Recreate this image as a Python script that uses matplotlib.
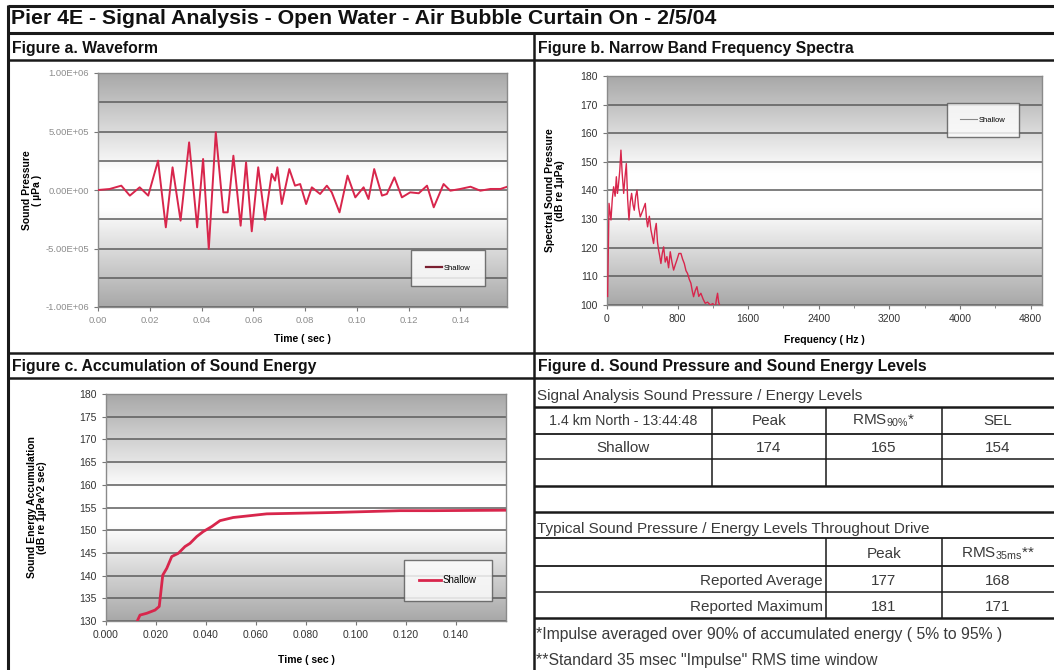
import numpy as np
import matplotlib
matplotlib.use("Agg")
import matplotlib.pyplot as plt
from matplotlib.colors import LinearSegmentedColormap
from matplotlib.ticker import MultipleLocator, FuncFormatter

plt.rcParams['font.family'] = ['Liberation Sans', 'DejaVu Sans']

# ---- data ----
# Figure a: waveform (time in s, pressure in uPa)
wave_t = [0.0, 0.0045, 0.0090, 0.0123, 0.0161, 0.0194, 0.0232, 0.0262, 0.0288, 0.0319,
          0.0352, 0.0383, 0.0406, 0.0428, 0.0455, 0.0484, 0.0501, 0.0523, 0.0551, 0.0572,
          0.0594, 0.0619, 0.0645, 0.0671, 0.0684, 0.0693, 0.0710, 0.0739, 0.0761, 0.0781,
          0.0804, 0.0826, 0.0858, 0.0884, 0.0903, 0.0933, 0.0964, 0.0994, 0.1026, 0.1045,
          0.1067, 0.1097, 0.1116, 0.1145, 0.1174, 0.1206, 0.1239, 0.1271, 0.1297, 0.1335,
          0.1361, 0.1400, 0.1439, 0.1477, 0.1516, 0.1555, 0.1581]
wave_p = [0, 8.5e3, 37e3, -48e3, 23e3, -48e3, 251e3, -319e3, 194e3, -262e3,
          407e3, -319e3, 265e3, -504e3, 493e3, -191e3, -191e3, 293e3, -305e3, 236e3,
          -353e3, 194e3, -256e3, 137e3, 80e3, 194e3, -120e3, 179e3, 37e3, 51e3,
          -120e3, 23e3, -34e3, 37e3, -20e3, -191e3, 123e3, -63e3, 23e3, -77e3,
          179e3, -48e3, -34e3, 108e3, -63e3, -20e3, -28e3, 37e3, -148e3, 51e3,
          -6e3, 9e3, 28e3, -6e3, 9e3, 9e3, 28e3]

# Figure b: narrow band spectrum (Hz, dB re 1uPa)
spec_f = [7, 23, 45, 60, 75, 92, 106, 118, 128, 145, 158, 172, 189, 205, 219, 234, 249, 264,
          279, 295, 309, 325, 340, 358, 377, 405, 434, 448, 460, 480, 498, 512, 528, 543,
          558, 572, 585, 598, 611, 626, 642, 660, 679, 698, 717, 736, 755, 773, 792, 815,
          838, 857, 876, 895, 913, 932, 951, 966, 981, 1000, 1019, 1040, 1064, 1090, 1113,
          1140, 1170, 1200, 1227, 1240, 1253, 1265, 1276, 1291]
spec_db = [103, 135.5, 129.7, 137, 141.3, 138, 144.8, 139, 141.3, 147, 154.1, 146, 139.0, 145,
           149.4, 137, 129.7, 136, 139.0, 135, 133.1, 138, 140.1, 134, 130.8, 133, 135.5, 130,
           127.3, 131, 126.2, 124, 121.5, 126, 128.5, 122, 119.2, 117, 114.5, 118, 120.3, 115,
           116.9, 113, 118.6, 115, 112.2, 114, 115.7, 118, 118.0, 116, 114.5, 112, 111.0, 109,
           107.6, 105, 102.9, 105, 106.4, 103, 104.1, 102, 100.6, 101, 100, 100.5, 99,
           102, 104.1, 101, 100, 98]

# Figure c: accumulated sound energy (s, dB re 1uPa^2 sec)
acc_t = [0.0118, 0.0125, 0.0136, 0.0163, 0.0196, 0.0213, 0.0227, 0.0243, 0.0263, 0.0289,
         0.0316, 0.0336, 0.0363, 0.0389, 0.0423, 0.0456, 0.0509, 0.0576, 0.0643, 0.0776,
         0.0909, 0.1043, 0.1176, 0.1309, 0.1600]
acc_db = [129, 130.0, 131.3, 131.7, 132.4, 133.2, 140.1, 141.6, 144.2, 144.9,
          146.4, 147.1, 148.6, 149.7, 150.8, 152.1, 152.8, 153.2, 153.6, 153.75,
          153.9, 154.1, 154.3, 154.3, 154.4]

# Figure d: tables
sig_header = ['1.4 km North - 13:44:48', 'Peak', r'RMS$_{\mathregular{90\%}}$*', 'SEL']
sig_row = ['Shallow', '174', '165', '154']
typ_header = ['Peak', r'RMS$_{\mathregular{35ms}}$**']
typ_rows = ['Reported Average', 'Reported Maximum']
typ_peak = ['177', '181']
typ_rms = ['168', '171']

title = 'Pier 4E - Signal Analysis - Open Water - Air Bubble Curtain On - 2/5/04'

W, H = 1054, 670
fig = plt.figure(figsize=(W / 100, H / 100), dpi=100)

# overlay axes in pixel coords for frame, headers and tables
bg = fig.add_axes([0, 0, 1, 1])
bg.set_xlim(0, W)
bg.set_ylim(H, 0)
bg.axis('off')

def hline(y, x0, x1, lw=1.6):
    bg.plot([x0, x1], [y, y], color='#1a1a1a', lw=lw, solid_capstyle='butt')

def vline(x, y0, y1, lw=1.6):
    bg.plot([x, x], [y0, y1], color='#1a1a1a', lw=lw, solid_capstyle='butt')

hline(6, 8, W, 2.2)
hline(33, 8, W, 2.2)
hline(60, 8, W, 1.8)
hline(353, 8, W, 1.8)
hline(378, 8, W, 1.8)
vline(8, 5, H, 2.2)
vline(534, 33, H, 1.8)

bg.text(11, 19, title, fontsize=15.3, fontweight='bold', va='center', color='#111')
hdr = dict(fontsize=11.3, fontweight='bold', va='center', color='#111')
bg.text(12, 48, 'Figure a. Waveform', **hdr)
bg.text(538, 48, 'Figure b. Narrow Band Frequency Spectra', **hdr)
bg.text(12, 367, 'Figure c. Accumulation of Sound Energy', **hdr)
bg.text(538, 367, 'Figure d. Sound Pressure and Sound Energy Levels', **hdr)

# table 1
tc = '#3a3a3a'
fs = 11
bg.text(537, 396, 'Signal Analysis Sound Pressure / Energy Levels', fontsize=11, va='center', color=tc)
for y, lw in [(407, 1.8), (434, 1.3), (459, 1.1), (486, 1.8), (512, 1.8)]:
    hline(y, 534, W, lw)
for x in [712, 826, 942]:
    vline(x, 407, 486, 1.1)
cols = [623, 769, 884, 998]
for i, (cx, s) in enumerate(zip(cols, sig_header)):
    bg.text(cx, 421, s, fontsize=10.2 if i == 0 else fs, ha='center', va='center', color=tc)
for cx, s in zip(cols, sig_row):
    bg.text(cx, 448, s, fontsize=fs, ha='center', va='center', color=tc)

# table 2
bg.text(537, 529, 'Typical Sound Pressure / Energy Levels Throughout Drive', fontsize=11,
        va='center', color=tc)
for y, lw in [(538, 1.3), (566, 1.3), (592, 1.1), (618, 1.8)]:
    hline(y, 534, W, lw)
for x in [826, 942]:
    vline(x, 538, 618, 1.1)
bg.text(884, 554, typ_header[0], fontsize=fs, ha='center', va='center', color=tc)
bg.text(998, 554, typ_header[1], fontsize=fs, ha='center', va='center', color=tc)
for i, y in enumerate([581, 607]):
    bg.text(823, y, typ_rows[i], fontsize=fs, ha='right', va='center', color=tc)
    bg.text(884, y, typ_peak[i], fontsize=fs, ha='center', va='center', color=tc)
    bg.text(998, y, typ_rms[i], fontsize=fs, ha='center', va='center', color=tc)
bg.text(536, 635, '*Impulse averaged over 90% of accumulated energy ( 5% to 95% )',
        fontsize=11.3, va='center', color=tc)
bg.text(536, 660, '**Standard 35 msec "Impulse" RMS time window',
        fontsize=11.3, va='center', color=tc)

# ---- chart helpers ----
cmap = LinearSegmentedColormap.from_list(
    'excel', [(0, '#a8a8a8'), (0.42, '#ffffff'), (0.58, '#ffffff'), (1, '#a8a8a8')])
grad = np.linspace(0, 1, 256).reshape(-1, 1)
red = '#d8264c'

def style(ax, ymaj, ymin_loc, tick_color):
    ax.imshow(grad, cmap=cmap, extent=[0, 1, 0, 1], transform=ax.transAxes,
              aspect='auto', zorder=0)
    ax.yaxis.set_major_locator(MultipleLocator(ymaj))
    ax.yaxis.set_minor_locator(MultipleLocator(ymin_loc))
    ax.grid(True, axis='y', which='both', color='#5c5c5c', lw=1.1)
    for s in ax.spines.values():
        s.set_color('#8a8a8a')
        s.set_linewidth(1.0)
    ax.tick_params(which='major', length=3, color='#777', labelsize=7.5, labelcolor=tick_color)
    ax.tick_params(axis='y', which='minor', length=0)

def legend(ax, x, y, lw, fs, pad):
    leg = ax.legend(loc='center', bbox_to_anchor=(x, y), fontsize=fs, frameon=True,
                    fancybox=False, borderpad=pad, handlelength=2.2, handletextpad=0.2)
    leg.get_frame().set_edgecolor('#555')
    leg.get_frame().set_linewidth(1.0)
    leg.get_lines()[0].set_linewidth(lw)
    return leg

# Figure a
ax_a = fig.add_axes([98 / W, 1 - 307 / H, 409 / W, 234 / H])
ax_a.plot(wave_t, wave_p, color=red, lw=1.4, label='Shallow', zorder=3)
style(ax_a, 5e5, 2.5e5, '#8c8c8c')
ax_a.set_xlim(0, 0.158)
ax_a.set_ylim(-1e6, 1e6)
ax_a.set_xticks([0, 0.02, 0.04, 0.06, 0.08, 0.10, 0.12, 0.14])
ax_a.xaxis.set_major_formatter(FuncFormatter(lambda v, p: f'{v:.2f}'))
ax_a.yaxis.set_major_formatter(FuncFormatter(lambda v, p: f'{v:.2E}'))
ax_a.tick_params(labelsize=6.8)
ax_a.set_xlabel('Time ( sec )', fontsize=7.5, fontweight='bold')
ax_a.xaxis.set_label_coords(0.5, -0.115)
ax_a.set_ylabel('Sound Pressure\n( µPa )', fontsize=7.5, fontweight='bold', linespacing=1.0)
ax_a.yaxis.set_label_coords(-0.137, 0.5)
leg = legend(ax_a, 0.856, 0.167, 1.6, 5.5, 1.9)
leg.get_lines()[0].set_color('#7a1f30')

# Figure b
ax_b = fig.add_axes([607 / W, 1 - 305 / H, 435 / W, 229 / H])
ax_b.plot(spec_f, spec_db, color=red, lw=1.0, label='Shallow', zorder=3)
style(ax_b, 10, 10, '#333')
ax_b.set_xlim(0, 4930)
ax_b.set_ylim(100, 180)
ax_b.xaxis.set_major_locator(MultipleLocator(800))
ax_b.xaxis.set_minor_locator(MultipleLocator(400))
ax_b.tick_params(axis='x', which='minor', length=2, color='#777')
ax_b.set_xlabel('Frequency ( Hz )', fontsize=7.5, fontweight='bold')
ax_b.xaxis.set_label_coords(0.5, -0.13)
ax_b.set_ylabel('Spectral Sound Pressure\n(dB re 1µPa)', fontsize=7.5, fontweight='bold',
                linespacing=1.0)
ax_b.yaxis.set_label_coords(-0.097, 0.5)
leg = legend(ax_b, 0.864, 0.808, 0.8, 5.5, 1.8)
leg.get_lines()[0].set_color('#888')

# Figure c
ax_c = fig.add_axes([106 / W, 1 - 621 / H, 400 / W, 227 / H])
ax_c.plot(acc_t, acc_db, color=red, lw=2.0, label='Shallow', zorder=3)
style(ax_c, 5, 5, '#333')
ax_c.set_xlim(0, 0.16)
ax_c.set_ylim(130, 180)
ax_c.set_xticks([0, 0.02, 0.04, 0.06, 0.08, 0.10, 0.12, 0.14])
ax_c.xaxis.set_major_formatter(FuncFormatter(lambda v, p: f'{v:.3f}'))
ax_c.set_xlabel('Time ( sec )', fontsize=7.5, fontweight='bold')
ax_c.xaxis.set_label_coords(0.5, -0.15)
ax_c.set_ylabel('Sound Energy Accumulation\n(dB re 1µPa^2 sec)', fontsize=7.5,
                fontweight='bold', linespacing=1.0)
ax_c.yaxis.set_label_coords(-0.1475, 0.5)
legend(ax_c, 0.855, 0.18, 2.0, 7, 1.6)

fig.savefig('out.png', dpi=100)
